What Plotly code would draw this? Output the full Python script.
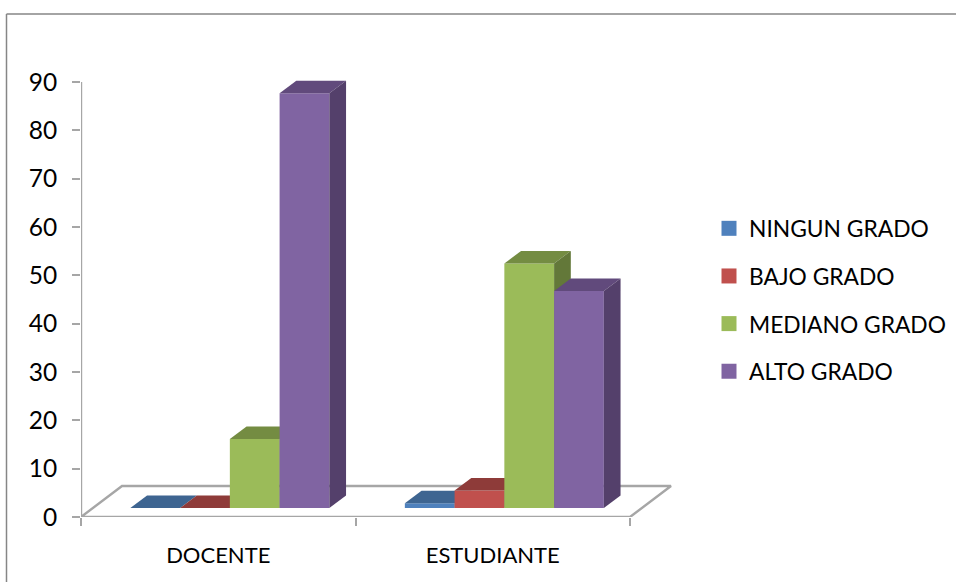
import plotly.graph_objects as go

categories = ["DOCENTE", "ESTUDIANTE"]
series_names = ["NINGUN GRADO", "BAJO GRADO", "MEDIANO GRADO", "ALTO GRADO"]
ningun = [0, 1.0]
bajo = [0, 3.6]
mediano = [14.3, 50.6]
alto = [85.8, 44.9]
y_ticks = [0, 10, 20, 30, 40, 50, 60, 70, 80, 90]

series_values = [ningun, bajo, mediano, alto]
front = ["#4F81BD", "#C0504D", "#9BBB59", "#8064A2"]
top = ["#3E6591", "#8E3B39", "#748C42", "#614A7C"]
side = ["#355679", "#7A3230", "#637839", "#54406B"]

W, H = 956, 582
L, B = 81, 65
PX_PER_GROUP = 274.5
PX_PER_UNIT = 435 / 90
x_max = (W - L) / PX_PER_GROUP
y_max = (H - B) / PX_PER_UNIT
px_x = lambda p: p / PX_PER_GROUP
px_y = lambda p: p / PX_PER_UNIT

bar_w = px_x(49.75)
base = px_y(9)
shift = px_x(11.6)
dx, dy = px_x(16.7), px_y(12.5)
floor_dx, floor_dy = px_x(41), px_y(31)
GRID = "#A6A6A6"

fig = go.Figure()
# floor and axis lines
fig.add_trace(go.Scatter(
    x=[0, 2, 2 + floor_dx, floor_dx, 0], y=[0, 0, floor_dy, floor_dy, 0], cliponaxis=False,
    mode="lines", line=dict(color=GRID, width=2.4), showlegend=False, hoverinfo="skip"))
fig.add_trace(go.Scatter(
    x=[0, 0], y=[0, y_ticks[-1]], mode="lines", cliponaxis=False,
    line=dict(color=GRID, width=2.4), showlegend=False, hoverinfo="skip"))

for s, (name, vals) in enumerate(zip(series_names, series_values)):
    suffix = "" if s == 0 else str(s + 1)
    xa, ya = "x" + suffix, "y" + suffix
    centers = [g + 0.5 + shift + (s - 1.5) * bar_w for g in range(len(categories))]
    fig.add_trace(go.Bar(
        x=centers, y=vals, base=base, width=bar_w, xaxis=xa, yaxis=ya,
        marker=dict(color=front[s], line=dict(width=0)), showlegend=False,
        hovertext=[f"{c}: {v}" for c, v in zip(categories, vals)], hoverinfo="text"))
    for c, v in zip(centers, vals):
        x0, x1 = c - bar_w / 2, c + bar_w / 2
        yb, yt = base, base + v
        fig.add_trace(go.Scatter(
            x=[x0, x1, x1 + dx, x0 + dx, x0], y=[yt, yt, yt + dy, yt + dy, yt],
            mode="lines", fill="toself", fillcolor=top[s], line=dict(width=0),
            xaxis=xa, yaxis=ya, showlegend=False, hoverinfo="skip"))
        if v > 0:
            fig.add_trace(go.Scatter(
                x=[x1, x1 + dx, x1 + dx, x1, x1], y=[yb, yb + dy, yt + dy, yt, yb],
                mode="lines", fill="toself", fillcolor=side[s], line=dict(width=0),
                xaxis=xa, yaxis=ya, showlegend=False, hoverinfo="skip"))
    # legend entry
    fig.add_trace(go.Scatter(
        x=[None], y=[None], mode="markers", name=name, legendgroup=name,
        marker=dict(symbol="square", size=15, color=front[s]), hoverinfo="skip"))

layout = dict(
    width=W, height=H, autosize=False, paper_bgcolor="white", plot_bgcolor="white",
    margin=dict(l=L, r=0, t=0, b=B, autoexpand=False), barmode="overlay",
    font=dict(family="Lato, Carlito, Calibri, sans-serif", color="#000000"),
    xaxis=dict(range=[0, x_max], tickmode="array", tickvals=[0.5, 1.5], ticktext=categories,
               ticks="", ticklen=0, showgrid=False, zeroline=False, showline=False,
               tickfont=dict(size=22), ticklabelstandoff=23,
               minor=dict(tickmode="array", tickvals=[0, 1, 2], ticks="outside", ticklen=8,
                          tickwidth=2, tickcolor=GRID, showgrid=False)),
    yaxis=dict(range=[0, y_max], tickmode="array", tickvals=y_ticks, ticks="outside", ticklen=8,
               tickwidth=2, tickcolor=GRID, showgrid=False, zeroline=False, showline=False,
               tickfont=dict(size=24.5), ticklabelstandoff=10),
    legend=dict(x=(709 - L) / (W - L), y=(H - B - 207) / (H - B),
                xanchor="left", yanchor="top",
                font=dict(size=22.8), tracegroupgap=15, bgcolor="rgba(0,0,0,0)", itemclick=False),
    showlegend=True,
    shapes=[
        dict(type="line", xref="paper", yref="paper",
             x0=(6.5 - L) / (W - L), x1=1, y0=(H - B - 14) / (H - B), y1=(H - B - 14) / (H - B),
             line=dict(color="#868686", width=1.5)),
        dict(type="line", xref="paper", yref="paper",
             x0=(6.5 - L) / (W - L), x1=(6.5 - L) / (W - L), y0=-B / (H - B), y1=(H - B - 14) / (H - B),
             line=dict(color="#868686", width=1.5)),
    ],
)
for s in range(1, 4):
    n = str(s + 1)
    layout["xaxis" + n] = dict(overlaying="x", range=[0, x_max], visible=False)
    layout["yaxis" + n] = dict(overlaying="y", range=[0, y_max], visible=False)
fig.update_layout(**layout)
fig.write_html("out.html", config=dict(displayModeBar=False),
               post_script="document.body.style.margin='0';document.body.style.overflow='hidden';")
